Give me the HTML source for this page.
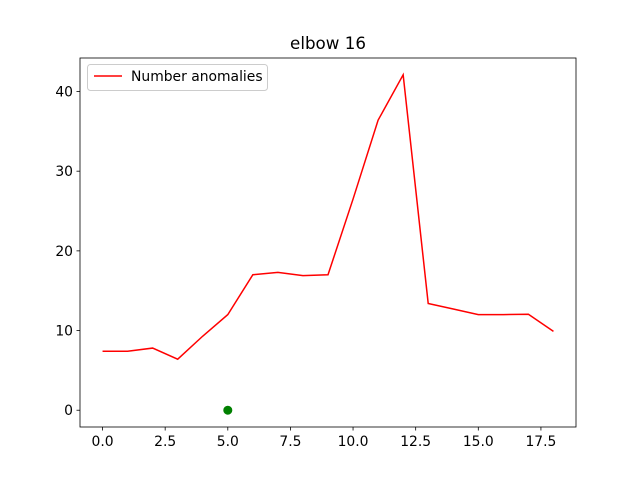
<!DOCTYPE html>
<html><head><meta charset="utf-8"><style>
body{margin:0;background:#fff;}
text{font-family:"DejaVu Sans","Liberation Sans",sans-serif;}
</style></head><body>
<svg id="chart" width="640" height="480" xmlns="http://www.w3.org/2000/svg">
<rect width="640" height="480" fill="#fff"/>
<text x="328" y="49" text-anchor="middle" font-size="16.7">elbow 16</text>
<g id="plot"></g>
<rect x="80" y="58" width="496" height="369" fill="none" stroke="#000" stroke-width="0.8"/>
<g>
<rect x="87.5" y="64.5" width="180" height="26" rx="3" fill="#fff" fill-opacity="0.8" stroke="#ccc"/>
<line x1="94" y1="76" x2="122" y2="76" stroke="red" stroke-width="1.5"/>
<text x="131" y="81" font-size="13.9">Number anomalies</text>
</g>
</svg>
<script>
const xValues=[0,1,2,3,4,5,6,7,8,9,10,11,12,13,14,15,16,17,18];
const anomalies=[7.4,7.4,7.8,6.4,9.3,12,17,17.3,16.9,17,26.5,36.4,42.1,13.4,12.7,12,12,12.05,9.9];
const elbowX=[5];
const elbowY=[0];
const xTicks=[0,2.5,5,7.5,10,12.5,15,17.5];
const xTickLabels=["0.0","2.5","5.0","7.5","10.0","12.5","15.0","17.5"];
const yTicks=[0,10,20,30,40];
const yTickLabels=["0","10","20","30","40"];
const L=80,R=576,T=58,B=427;
const xmin=-0.9,xmax=18.9,ymin=-2.105,ymax=44.205;
const sx=v=>L+(v-xmin)/(xmax-xmin)*(R-L);
const sy=v=>B-(v-ymin)/(ymax-ymin)*(B-T);
const NS="http://www.w3.org/2000/svg";
const g=document.getElementById('plot');
function mk(t,a){const e=document.createElementNS(NS,t);for(const k in a)e.setAttribute(k,a[k]);g.appendChild(e);return e;}
xTicks.forEach((v,i)=>{
 const l=mk('line',{x1:sx(v),x2:sx(v),y1:B,y2:B+3.5,stroke:'#000','stroke-width':0.8});
 
 
 const t=mk('text',{x:sx(v),y:B+19,'text-anchor':'middle','font-size':13.9});
 t.textContent=xTickLabels[i];
 
 
});
yTicks.forEach((v,i)=>{
 const l=mk('line',{x1:L-3.5,x2:L,y1:sy(v),y2:sy(v),stroke:'#000','stroke-width':0.8});
 
 
 const t=mk('text',{x:L-7,y:sy(v)+5,'text-anchor':'end','font-size':13.9});
 t.textContent=yTickLabels[i];
 
 
});
const p=mk('polyline',{points:xValues.map((x,i)=>sx(x)+','+sy(anomalies[i])).join(' '),fill:'none',stroke:'red','stroke-width':1.5});


elbowX.forEach((x,i)=>{
 const c=mk('circle',{cx:sx(x),cy:sy(elbowY[i]),r:4.5,fill:'green'});
 
 
});
</script>
</body></html>
